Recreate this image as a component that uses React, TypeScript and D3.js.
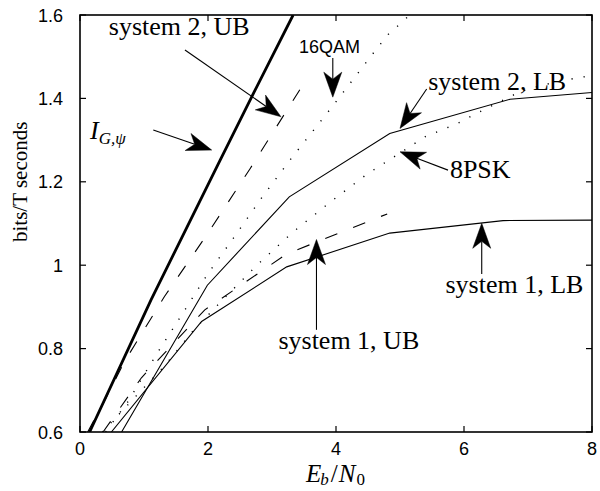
import React from 'react';
import * as d3 from 'd3';

// ---------- data ----------
const xTicks = [0, 2, 4, 6, 8];
const xTickLabels = ['0', '2', '4', '6', '8'];
const yTicks = [0.6, 0.8, 1.0, 1.2, 1.4, 1.6];
const yTickLabels = ['0.6', '0.8', '1', '1.2', '1.4', '1.6'];

// Gaussian-input bound I_{G,psi} (thick solid)
const igCurve: [number, number][] = [
  [0.15, 0.6], [1.11, 0.917], [2.19, 1.252], [2.71, 1.412], [3.33, 1.6],
];
// system 2, upper bound (dashed)
const sys2UB: [number, number][] = [
  [0.12, 0.6], [0.4, 0.68], [0.7, 0.77], [1.0, 0.845], [1.32, 0.925],
  [2.0, 1.077], [2.66, 1.232], [3.46, 1.427],
];
// system 2, lower bound (solid)
const sys2LB: [number, number][] = [
  [0.65, 0.6], [1.99, 0.952], [3.27, 1.164], [4.84, 1.316], [6.72, 1.398], [8.0, 1.414],
];
// system 1, upper bound (dashed)
const sys1UB: [number, number][] = [
  [0.36, 0.6], [0.96, 0.73], [1.95, 0.893], [3.23, 1.027], [4.8, 1.123],
];
// system 1, lower bound (solid)
const sys1LB: [number, number][] = [
  [0.49, 0.6], [1.9, 0.865], [3.23, 0.996], [4.84, 1.077], [6.61, 1.107], [8.0, 1.108],
];
// 16QAM (dotted)
const qam16: [number, number][] = [
  [0.4, 0.6], [0.75, 0.673], [1.02, 0.742], [1.21, 0.79], [1.41, 0.838], [1.71, 0.91],
  [2.0, 0.98], [2.42, 1.07], [2.84, 1.162], [3.28, 1.252], [3.61, 1.316], [3.96, 1.384],
  [4.28, 1.448], [4.61, 1.514], [4.84, 1.558], [5.0, 1.578], [5.15, 1.6],
];
// 8PSK (dotted)
const psk8: [number, number][] = [
  [0.35, 0.6], [0.96, 0.7], [1.33, 0.76], [1.78, 0.845], [2.28, 0.925], [2.79, 1.004],
  [3.33, 1.08], [3.9, 1.15], [4.48, 1.218], [4.95, 1.264], [5.39, 1.308], [5.89, 1.339],
  [6.22, 1.366], [6.875, 1.416], [7.23, 1.432], [7.73, 1.448], [8.0, 1.455],
];

// annotations: label, text anchor point and arrow (tail -> tip), in data units
const annotations = [
  { text: 'system 2, UB', font: 'serif', tx: 0.45, ty: 1.552, ax1: 1.64, ay1: 1.516, ax2: 3.14, ay2: 1.356 },
  { text: '16QAM', font: 'sans', tx: 3.42, ty: 1.508, ax1: 3.95, ay1: 1.497, ax2: 3.95, ay2: 1.403 },
  { text: 'system 2, LB', font: 'serif', tx: 5.44, ty: 1.42, ax1: 5.417, ay1: 1.4225, ax2: 5.0, ay2: 1.328 },
  { text: '8PSK', font: 'serif', tx: 5.78, ty: 1.209, ax1: 5.75, ay1: 1.228, ax2: 5.0, ay2: 1.272 },
  { text: 'system 1, UB', font: 'serif', tx: 3.1, ty: 0.799, ax1: 3.695, ay1: 0.845, ax2: 3.695, ay2: 1.0616 },
  { text: 'system 1, LB', font: 'serif', tx: 5.71, ty: 0.934, ax1: 6.277, ay1: 0.979, ax2: 6.277, ay2: 1.1005 },
];
const igLabel = { tx: 0.156, ty: 1.303, ax1: 1.145, ay1: 1.324, ax2: 2.058, ay2: 1.276 };

// ---------- layout ----------
const W = 600, H = 491;
const L = 80, R = 592, T = 15, B = 432;
const SERIF = '"Liberation Serif", "Times New Roman", serif';
const SANS = '"Liberation Sans", Arial, sans-serif';

const x = d3.scaleLinear().domain([0, 8]).range([L, R]);
const y = d3.scaleLinear().domain([0.6, 1.6]).range([B, T]);
const line = d3.line<[number, number]>().x(d => x(d[0])).y(d => y(d[1]));

function Arrow({ x1, y1, x2, y2 }: { x1: number; y1: number; x2: number; y2: number }) {
  const dx = x2 - x1, dy = y2 - y1;
  const len = Math.hypot(dx, dy);
  const ux = dx / len, uy = dy / len;
  const px = -uy, py = ux;
  const HL = 25, HW = 9, HN = 18;
  const bx = x2 - HL * ux, by = y2 - HL * uy;
  const nx = x2 - HN * ux, ny = y2 - HN * uy;
  const d = `M${x2},${y2}L${bx + HW * px},${by + HW * py}L${nx},${ny}L${bx - HW * px},${by - HW * py}Z`;
  return (
    <g>
      <line x1={x1} y1={y1} x2={nx} y2={ny} stroke="#000" strokeWidth={1.1} />
      <path d={d} fill="#000" stroke="#000" strokeWidth={0.5} strokeLinejoin="miter" />
    </g>
  );
}

export default function App() {
  const tickLen = 6;
  return (
    <svg width={W} height={H} viewBox={`0 0 ${W} ${H}`}
      style={{ position: 'absolute', left: 0, top: 0, background: '#fff' }}>
      <defs>
        <clipPath id="plotclip">
          <rect x={L} y={T} width={R - L} height={B - T} />
        </clipPath>
      </defs>
      <rect x={0} y={0} width={W} height={H} fill="#fff" />

      <g clipPath="url(#plotclip)" fill="none" stroke="#000">
        <path d={line(igCurve) ?? ''} strokeWidth={2.8} />
        <path d={line(sys2UB) ?? ''} strokeWidth={1.1} strokeDasharray="13 17" />
        <path d={line(sys1UB) ?? ''} strokeWidth={1.1} strokeDasharray="13 17" />
        <path d={line(sys2LB) ?? ''} strokeWidth={1.1} />
        <path d={line(sys1LB) ?? ''} strokeWidth={1.1} />
        <path d={line(qam16) ?? ''} strokeWidth={1.4} strokeDasharray="1.2 11" />
        <path d={line(psk8) ?? ''} strokeWidth={1.4} strokeDasharray="1.2 11" />
      </g>

      {/* axes box and ticks */}
      <rect x={L} y={T} width={R - L} height={B - T} fill="none" stroke="#000" strokeWidth={1.6} />
      {xTicks.map((t, i) => (
        <g key={'xt' + i}>
          <line x1={x(t)} x2={x(t)} y1={B} y2={B - tickLen} stroke="#000" strokeWidth={1.2} />
          <line x1={x(t)} x2={x(t)} y1={T} y2={T + tickLen} stroke="#000" strokeWidth={1.2} />
          <text x={x(t)} y={B + 23} textAnchor="middle" fontFamily={SANS} fontSize={18}>{xTickLabels[i]}</text>
        </g>
      ))}
      {yTicks.map((t, i) => (
        <g key={'yt' + i}>
          <line x1={L} x2={L + tickLen} y1={y(t)} y2={y(t)} stroke="#000" strokeWidth={1.2} />
          <line x1={R} x2={R - tickLen} y1={y(t)} y2={y(t)} stroke="#000" strokeWidth={1.2} />
          <text x={L - 17} y={y(t) + 6.5} textAnchor="end" fontFamily={SANS} fontSize={18}>{yTickLabels[i]}</text>
        </g>
      ))}

      {/* axis labels */}
      <text transform={`translate(27,${y(1.2)}) rotate(-90)`} textAnchor="middle"
        fontFamily={SERIF} fontSize={21}>bits/T seconds</text>
      <text x={306} y={482} fontFamily={SERIF} fontSize={25} fontStyle="italic">
        E<tspan fontSize={17} dy={3} dx={-1}>b</tspan><tspan dy={-3} dx={2} fontStyle="normal">/</tspan><tspan dx={1}>N</tspan><tspan fontSize={17} dy={3} dx={1} fontStyle="normal">0</tspan>
      </text>

      {/* annotations */}
      {annotations.map((a, i) => (
        <g key={'an' + i}>
          <Arrow x1={x(a.ax1)} y1={y(a.ay1)} x2={x(a.ax2)} y2={y(a.ay2)} />
          <text x={x(a.tx)} y={y(a.ty)} fontFamily={a.font === 'sans' ? SANS : SERIF}
            fontSize={a.font === 'sans' ? 18 : 26}>{a.text}</text>
        </g>
      ))}
      <Arrow x1={x(igLabel.ax1)} y1={y(igLabel.ay1)} x2={x(igLabel.ax2)} y2={y(igLabel.ay2)} />
      <text x={x(igLabel.tx)} y={y(igLabel.ty)} fontFamily={SERIF} fontSize={26} fontStyle="italic">
        I<tspan fontSize={17} dy={5}>G,ψ</tspan>
      </text>
    </svg>
  );
}
